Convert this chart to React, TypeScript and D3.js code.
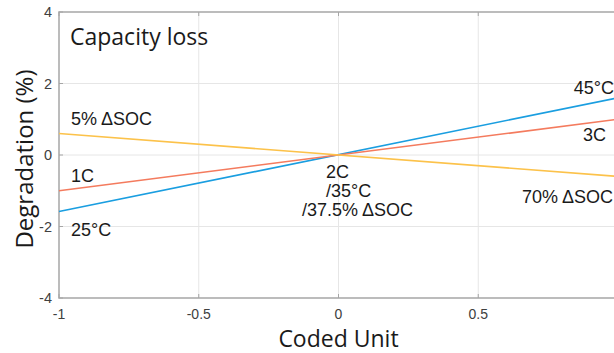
import React, { useEffect, useRef } from "react";
import * as d3 from "d3";

// coded unit ends of each main-effect line
const codedUnits = [-1, 1];
const temperatureLine = [-1.58, 1.6];
const cRateLine = [-1.0, 1.0];
const socLine = [0.6, -0.6];

const xTicks = [-1, -0.5, 0, 0.5, 1];
const yTicks = [-4, -2, 0, 2, 4];

const seriesColors = ["#1a9ee0", "#f47b5e", "#fcc24a"];

const lineLabels = [
  { text: "5% ΔSOC", anchor: "start" },
  { text: "1C", anchor: "start" },
  { text: "25°C", anchor: "start" },
  { text: "45°C", anchor: "end" },
  { text: "3C", anchor: "end" },
  { text: "70% ΔSOC", anchor: "end" },
];

const centerLabel = ["2C", "/35°C", "/37.5% ΔSOC"];

function App(): JSX.Element {
  const ref = useRef<SVGSVGElement>(null);

  useEffect(() => {
    if (!ref.current) return;
    const svg = d3.select(ref.current);
    svg.selectAll("*").remove();

    const width = 614;
    const height = 353;
    const margin = { top: 12, left: 59 };

    const x = d3.scaleLinear().domain([-1, 1]).range([margin.left, 618]);
    const y = d3.scaleLinear().domain([-4, 4]).range([298, margin.top]);

    svg.append("rect").attr("width", width).attr("height", height).attr("fill", "white");

    // grid
    svg
      .append("g")
      .selectAll("line")
      .data(xTicks.filter((d) => d > -1 && d < 1))
      .enter()
      .append("line")
      .attr("x1", (d) => x(d))
      .attr("x2", (d) => x(d))
      .attr("y1", y(4))
      .attr("y2", y(-4))
      .attr("stroke", "#e6e6e6")
      .attr("stroke-width", 1);

    svg
      .append("g")
      .selectAll("line")
      .data(yTicks.filter((d) => d > -4 && d < 4))
      .enter()
      .append("line")
      .attr("x1", x(-1))
      .attr("x2", x(1))
      .attr("y1", (d) => y(d))
      .attr("y2", (d) => y(d))
      .attr("stroke", "#e6e6e6")
      .attr("stroke-width", 1);

    // box
    const axisColor = "#a6a6a6";
    svg
      .append("rect")
      .attr("x", x(-1))
      .attr("y", y(4))
      .attr("width", x(1) - x(-1))
      .attr("height", y(-4) - y(4))
      .attr("fill", "none")
      .attr("stroke", axisColor)
      .attr("stroke-width", 1.5);

    // tick marks
    xTicks.forEach((t) => {
      svg.append("line").attr("x1", x(t)).attr("x2", x(t)).attr("y1", y(-4)).attr("y2", y(-4) - 4).attr("stroke", axisColor);
      svg.append("line").attr("x1", x(t)).attr("x2", x(t)).attr("y1", y(4)).attr("y2", y(4) + 4).attr("stroke", axisColor);
    });
    yTicks.forEach((t) => {
      svg.append("line").attr("x1", x(-1)).attr("x2", x(-1) + 4).attr("y1", y(t)).attr("y2", y(t)).attr("stroke", axisColor);
    });

    const tickFont = "'Liberation Sans', Arial, sans-serif";
    svg
      .append("g")
      .selectAll("text")
      .data(xTicks.filter((d) => d < 1))
      .enter()
      .append("text")
      .attr("x", (d) => x(d))
      .attr("y", 319)
      .attr("text-anchor", "middle")
      .attr("font-family", tickFont)
      .attr("font-size", 14)
      .attr("fill", "#404040")
      .text((d) => d3.format("")(d).replace("−", "-"));

    svg
      .append("g")
      .selectAll("text")
      .data(yTicks)
      .enter()
      .append("text")
      .attr("x", 52)
      .attr("y", (d) => y(d) + 5)
      .attr("text-anchor", "end")
      .attr("font-family", tickFont)
      .attr("font-size", 14.5)
      .attr("fill", "#404040")
      .text((d) => d3.format("")(d).replace("−", "-"));

    // lines
    const line = d3
      .line<number>()
      .x((_, i) => x(codedUnits[i]))
      .y((d) => y(d));

    [temperatureLine, cRateLine, socLine].forEach((data, i) => {
      svg
        .append("path")
        .datum(data)
        .attr("fill", "none")
        .attr("stroke", seriesColors[i])
        .attr("stroke-width", 1.6)
        .attr("d", line);
    });

    const labelFont = "'Liberation Sans', Arial, sans-serif";
    const labelPos: Record<string, [number, number]> = {
      "5% ΔSOC": [71, 125],
      "1C": [71, 182],
      "25°C": [71, 236],
      "45°C": [614, 94],
      "3C": [606, 141],
      "70% ΔSOC": [613, 203],
    };
    lineLabels.forEach((l) => {
      const [px, py] = labelPos[l.text];
      svg
        .append("text")
        .attr("x", px)
        .attr("y", py)
        .attr("text-anchor", l.anchor)
        .attr("font-family", labelFont)
        .attr("font-size", 18)
        .attr("fill", "#1a1a1a")
        .text(l.text);
    });

    const centerX = [326, 326, 302];
    centerLabel.forEach((t, i) => {
      svg
        .append("text")
        .attr("x", centerX[i])
        .attr("y", 178 + i * 19)
        .attr("font-family", labelFont)
        .attr("font-size", 18)
        .attr("fill", "#1a1a1a")
        .text(t);
    });

    const titleFont = "'Open Sans', 'Noto Sans', sans-serif";
    svg
      .append("text")
      .attr("x", 70)
      .attr("y", 45)
      .attr("font-family", titleFont)
      .attr("font-size", 23)
      .attr("fill", "#1a1a1a")
      .text("Capacity loss");

    svg
      .append("text")
      .attr("x", x(0))
      .attr("y", 347)
      .attr("text-anchor", "middle")
      .attr("font-family", titleFont)
      .attr("font-size", 23)
      .attr("fill", "#1a1a1a")
      .text("Coded Unit");

    svg
      .append("text")
      .attr("transform", `translate(33,${159}) rotate(-90)`)
      .attr("text-anchor", "middle")
      .attr("font-family", titleFont)
      .attr("font-size", 24)
      .attr("fill", "#1a1a1a")
      .text("Degradation (%)");
  }, []);

  return (
    <svg
      ref={ref}
      width={614}
      height={353}
      style={{ position: "absolute", left: 0, top: 0, display: "block" }}
    />
  );
}

export default App;
